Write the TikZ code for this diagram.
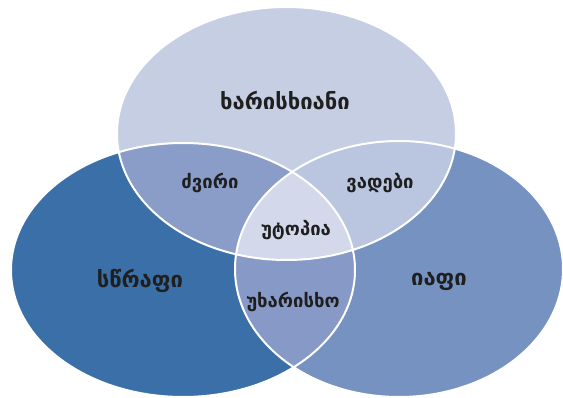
\documentclass[tikz,border=0pt]{standalone}
\usepackage{fontspec}
\setmainfont{DejaVu Sans}
\definecolor{topc}{HTML}{C6CEE3}
\definecolor{leftc}{HTML}{3A70A7}
\definecolor{rightc}{HTML}{7592C1}
\definecolor{tlc}{HTML}{8A9CC8}
\definecolor{trc}{HTML}{BAC5E0}
\definecolor{midc}{HTML}{D3D9EB}
\definecolor{botc}{HTML}{8799C6}
\tikzset{
  big/.style={font=\bfseries\fontsize{22}{25}\selectfont, text=black!88},
  small/.style={font=\bfseries\fontsize{18.5}{21}\selectfont, text=black!88},
  rim/.style={draw=white, line width=2pt}
}
\begin{document}
\begin{tikzpicture}[x=1pt,y=-1pt]
\useasboundingbox (0,0) rectangle (563,398);
\def\topE{(286.5,133.5) ellipse [x radius=169.5pt, y radius=126.5pt]}
\def\leftE{(183,270) ellipse [x radius=172pt, y radius=127pt]}
\def\rightE{(399,269) ellipse [x radius=164pt, y radius=128pt]}
\fill[topc] \topE;
\fill[leftc] \leftE;
\fill[rightc] \rightE;
\begin{scope}\clip \topE; \fill[tlc] \leftE; \end{scope}
\begin{scope}\clip \topE; \fill[trc] \rightE; \end{scope}
\begin{scope}\clip \leftE; \fill[botc] \rightE; \end{scope}
\begin{scope}\clip \topE; \clip \leftE; \fill[midc] \rightE; \end{scope}
\draw[rim] \topE;
\draw[rim] \leftE;
\draw[rim] \rightE;
\node[big] (quality) at (285,101) {ხარისხიანი};
\node[big] (fast) at (140,281) {სწრაფი};
\node[big] (cheap) at (439,281) {იაფი};
\node[small] (expensive) at (210,183) {ძვირი};
\node[small] (deadlines) at (380,183) {ვადები};
\node[small] (utopia) at (296,230) {უტოპია};
\node[small] (lowq) at (293,302) {უხარისხო};
\end{tikzpicture}
\end{document}
